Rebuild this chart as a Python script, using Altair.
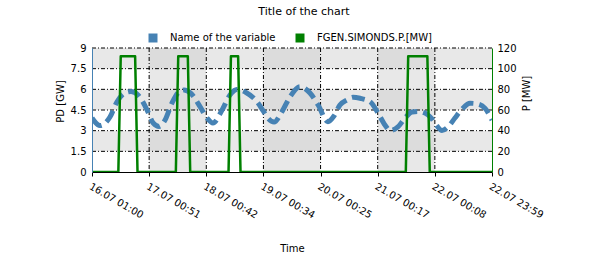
import altair as alt
import pandas as pd

# ---------------- data ----------------
series_names = ["Name of the variable", "FGEN.SIMONDS.P.[MW]"]
series_colors = ["#4682b4", "#008000"]

x_tick_labels = ["16.07 01:00", "17.07 00:51", "18.07 00:42", "19.07 00:34",
                 "20.07 00:25", "21.07 00:17", "22.07 00:08", "22.07 23:59"]
total_hours = 166.983  # 16.07 01:00 -> 22.07 23:59
gw_ticks = [0, 1.5, 3, 4.5, 6, 7.5, 9]
mw_ticks = [0, 20, 40, 60, 80, 100, 120]

# "Name of the variable" (PD [GW]) -- hours since 16.07 01:00
blue_hours = [0.0, 3.3, 7.5, 10.4, 13.4, 16.3, 19.2, 23.0, 25.5, 28.0, 30.5, 33.4,
              36.3, 38.4, 41.3, 45.1, 48.0, 50.5, 54.3, 57.6, 60.5, 64.3, 69.3, 71.4,
              73.5, 76.0, 79.3, 82.7, 86.8, 91.0, 94.4, 98.5, 101.0, 103.5, 106.5, 109.0,
              111.9, 116.1, 119.4, 122.3, 124.4, 127.7, 130.7, 133.6, 136.1, 139.0, 141.9,
              144.0, 146.1, 148.6, 151.5, 154.5, 157.8, 161.1, 164.1, 167.0]
blue_values = [3.92, 3.37, 3.99, 5.08, 5.70, 5.84, 5.59, 4.50, 3.56, 3.30, 3.77, 5.01,
               5.81, 5.95, 5.70, 4.75, 3.92, 3.56, 4.50, 5.59, 5.99, 5.77, 5.01, 4.45,
               3.90, 3.63, 4.38, 5.47, 6.19, 5.73, 4.86, 3.65, 4.06, 4.86, 5.23, 5.42,
               5.35, 5.10, 4.28, 3.41, 3.01, 3.27, 3.92, 4.35, 4.39, 4.28, 3.85,
               3.34, 3.01, 3.27, 3.92, 4.57, 4.99, 4.94, 4.61, 3.77]

# "FGEN.SIMONDS.P.[MW]" (P [MW])
green_hours = [0, 11, 12, 18, 19, 35, 36, 40, 41, 57, 58, 61, 62, 131, 132, 140, 141, 166.983]
green_values = [0, 0, 112, 112, 0, 0, 112, 112, 0, 0, 112, 112, 0, 0, 112, 112, 0, 0]

# ---------------- derived tables ----------------
n_int = len(x_tick_labels) - 1
step = total_hours / n_int
x_ticks = [i * step for i in range(len(x_tick_labels))]

shade = {0: "#ffffff", 1: "#e8e8e8", 2: "#dcdcdc"}
cells = []
for i in range(n_int):
    for j in range(len(gw_ticks) - 1):
        cells.append({"x0": x_ticks[i], "x1": x_ticks[i + 1],
                      "y0": gw_ticks[j], "y1": gw_ticks[j + 1],
                      "c": shade[(i % 2) + (j % 2)]})
cells_df = pd.DataFrame(cells)
vgrid_df = pd.DataFrame({"x": x_ticks[1:-1]})
hgrid_df = pd.DataFrame({"y": gw_ticks[1:]})
blue_df = pd.DataFrame({"h": blue_hours, "v": blue_values})
green_df = pd.DataFrame({"h": green_hours, "p": green_values})

FONT = "DejaVu Sans"

label_arr = "[" + ",".join("'" + s + "'" for s in x_tick_labels) + "]"
x_scale = alt.Scale(domain=[0, total_hours], nice=False, zero=False)
x_axis = alt.Axis(values=x_ticks, labelExpr=f"{label_arr}[round(datum.value / {step})]",
                  labelAngle=30, labelAlign="left", labelBaseline="top", labelPadding=5,
                  tickSize=4, tickColor="black", domainColor="black", grid=False,
                  title="Time", titlePadding=24, zindex=1, labelOverlap=False, labelBound=False)
yl_scale = alt.Scale(domain=[0, 9], nice=False)
yl_axis = alt.Axis(values=gw_ticks, labelExpr="'' + datum.value", ticks=False,
                   domainColor="#4682b4", grid=False, title="PD [GW]", labelPadding=6,
                   titlePadding=5, titleY=53, titleAlign="center", zindex=1)
yr_scale = alt.Scale(domain=[0, 120], nice=False)
yr_axis = alt.Axis(values=mw_ticks, labelExpr="'' + datum.value", orient="right", ticks=False,
                   domainColor="#008000", grid=False, title="P [MW]", titleAngle=270,
                   titleAlign="center", titleY=45, labelPadding=5, titlePadding=15, zindex=1)


def X(f):
    return alt.X(f, type="quantitative", scale=x_scale, axis=x_axis)


def YL(f):
    return alt.Y(f, type="quantitative", scale=yl_scale, axis=yl_axis)


bg = alt.Chart(cells_df).mark_rect().encode(
    x=X("x0"), x2="x1", y=YL("y0"), y2="y1",
    fill=alt.Fill("c:N", scale=None))

dash = [4, 2, 1, 2]
vgrid = alt.Chart(vgrid_df).mark_rule(color="black", strokeWidth=1, strokeDash=dash).encode(x=X("x"))
hgrid = alt.Chart(hgrid_df).mark_rule(color="black", strokeWidth=1, strokeDash=dash).encode(y=YL("y"))

blue = alt.Chart(blue_df).mark_line(color=series_colors[0], strokeWidth=5, strokeDash=[13, 6],
                                    interpolate="monotone", clip=True).encode(x=X("h"), y=YL("v"))

legend_layer = alt.Chart(alt.Data(values=[])).mark_square(size=81, filled=True, opacity=1).encode(
    color=alt.Color("series:N",
                    scale=alt.Scale(domain=series_names, range=series_colors),
                    legend=alt.Legend(orient="none", legendX=56, legendY=-15,
                                      direction="horizontal", title=None,
                                      symbolType="square", symbolSize=81,
                                      symbolStrokeWidth=0, labelFont=FONT,
                                      labelFontSize=10, labelColor="black",
                                      labelOffset=12, columnPadding=19, padding=0)))

left = alt.layer(bg, vgrid, hgrid, blue, legend_layer)

green = alt.Chart(green_df).mark_line(color=series_colors[1], strokeWidth=2.5,
                                      strokeJoin="round", clip=True).encode(
    x=X("h"), y=alt.Y("p", type="quantitative", scale=yr_scale, axis=yr_axis))

chart = alt.layer(left, green).resolve_scale(y="independent").properties(
    width=400, height=124,
    autosize=alt.AutoSizeParams(type="none"),
    padding={"left": 92, "top": 48, "right": 117, "bottom": 89},
    title=alt.TitleParams("Title of the chart", font=FONT, fontSize=11,
                          fontWeight="normal", color="black", anchor="middle",
                          dx=12, offset=16),
).configure_axis(
    labelFont=FONT, labelFontSize=10, labelColor="black",
    titleFont=FONT, titleFontSize=10, titleFontWeight="normal", titleColor="black",
).configure_view(stroke=None)

chart.save("out.html", embed_options={"renderer": "svg", "actions": False})
